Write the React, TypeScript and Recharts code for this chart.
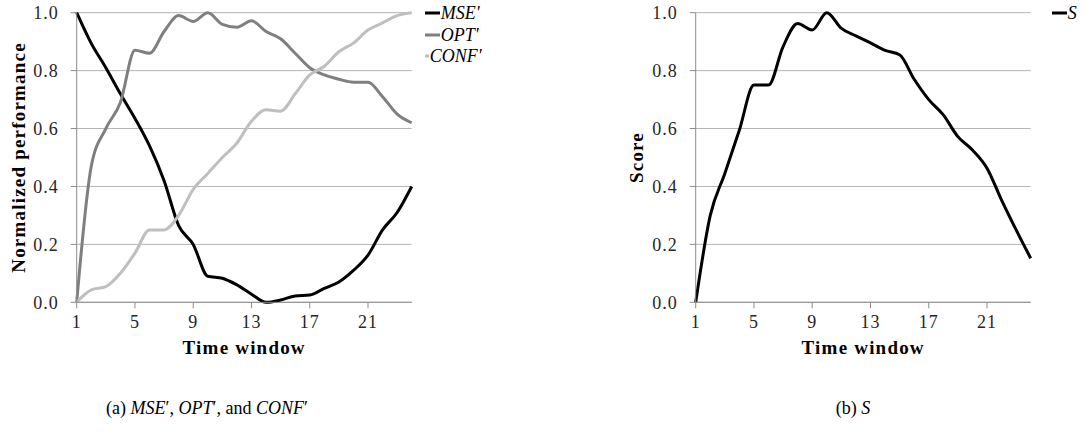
import React from 'react';
import { LineChart, Line, XAxis, YAxis, CartesianGrid, Legend } from 'recharts';

const timeWindows = [1, 2, 3, 4, 5, 6, 7, 8, 9, 10, 11, 12, 13, 14, 15, 16, 17, 18, 19, 20, 21, 22, 23, 24];
const msePrime = [1.0, 0.894, 0.81, 0.72, 0.635, 0.54, 0.42, 0.265, 0.2, 0.09, 0.083, 0.06, 0.028, 0.0, 0.008, 0.022, 0.025, 0.048, 0.07, 0.11, 0.163, 0.25, 0.31, 0.4];
const optPrime = [0.0, 0.47, 0.6, 0.69, 0.87, 0.86, 0.935, 0.99, 0.97, 1.0, 0.96, 0.95, 0.972, 0.935, 0.91, 0.86, 0.81, 0.785, 0.77, 0.76, 0.76, 0.71, 0.65, 0.62];
const confPrime = [0.0, 0.043, 0.054, 0.1, 0.17, 0.25, 0.25, 0.3, 0.39, 0.445, 0.5, 0.55, 0.625, 0.665, 0.66, 0.72, 0.785, 0.815, 0.865, 0.895, 0.94, 0.965, 0.99, 1.0];
const scoreS = [0.0, 0.3, 0.445, 0.595, 0.75, 0.75, 0.883, 0.963, 0.94, 1.0, 0.946, 0.92, 0.896, 0.87, 0.855, 0.77, 0.7, 0.647, 0.572, 0.526, 0.463, 0.353, 0.25, 0.152];

const xTicks = [1, 5, 9, 13, 17, 21];
const yTicks = [0, 0.2, 0.4, 0.6, 0.8, 1.0];

const leftData = timeWindows.map((t, i) => ({ t, mse: msePrime[i], opt: optPrime[i], conf: confPrime[i] }));
const rightData = timeWindows.map((t, i) => ({ t, s: scoreS[i] }));

const AXIS = '#8c8c8c';
const GRID = '#b4b4b4';
const SERIF = "'Liberation Serif', 'Times New Roman', serif";
const TICK_FONT = { fontFamily: SERIF, fontSize: 18, fill: '#262626', letterSpacing: 1 };

type LegendItem = { label: string; color: string };

const makeLegend = (items: LegendItem[], pad: number) => () => (
  <div style={{ paddingLeft: pad, marginTop: -10 }}>
    {items.map((it) => (
      <div key={it.label} style={{ display: 'flex', alignItems: 'center', height: 21.3 }}>
        <svg width={15} height={4} style={{ display: 'block' }}>
          <line x1={0} y1={2} x2={15} y2={2} stroke={it.color} strokeWidth={3} />
        </svg>
        <span style={{ fontFamily: SERIF, fontStyle: 'italic', fontSize: 18, color: '#000', lineHeight: '18px', marginLeft: 1 }}>
          {it.label}
        </span>
      </div>
    ))}
  </div>
);

const titleStyle = { fontFamily: SERIF, fontWeight: 'bold' as const, fontSize: 19, fill: '#000', letterSpacing: 1.2 };

const xLabel = (props: any) => {
  const vb = props.viewBox || {};
  return (
    <text x={vb.x + vb.width / 2} y={vb.y + 45} textAnchor="middle" dominantBaseline="central" style={titleStyle}>
      Time window
    </text>
  );
};

const yLabel = (text: string, xAbs: number) => (props: any) => {
  const vb = props.viewBox || {};
  const cy = vb.y + vb.height / 2;
  return (
    <text x={xAbs} y={cy} textAnchor="middle" dominantBaseline="central" transform={`rotate(-90 ${xAbs} ${cy})`}
      style={titleStyle}>
      {text}
    </text>
  );
};

const captionStyle: React.CSSProperties = {
  position: 'absolute',
  fontFamily: SERIF,
  fontSize: 18,
  color: '#000',
  whiteSpace: 'nowrap',
  transform: 'translateX(-50%)',
};

export default function App() {
  return (
    <div style={{ position: 'absolute', left: 0, top: 0, width: 1090, height: 439, background: '#fff' }}>
      <div style={{ position: 'absolute', left: 0, top: 0 }}>
        <LineChart width={500} height={370} data={leftData} margin={{ top: 12.7, right: 18.3, bottom: 37.7, left: 16.7 }}>
          <CartesianGrid horizontal vertical={false} stroke={GRID} />
          <XAxis dataKey="t" type="number" domain={[1, 24]} ticks={xTicks} interval={0} height={30}
            axisLine={{ stroke: AXIS }} tickLine={{ stroke: AXIS }} tickSize={6} tickMargin={7} tick={TICK_FONT}
            label={xLabel} />
          <YAxis type="number" domain={[0, 1]} ticks={yTicks} width={60} tickFormatter={(v: number) => v.toFixed(1)}
            axisLine={{ stroke: AXIS }} tickLine={{ stroke: AXIS }} tickSize={6} tickMargin={12} tick={TICK_FONT}
            label={yLabel('Normalized performance', 18)} />
          <Legend layout="vertical" align="right" verticalAlign="top" wrapperStyle={{ width: 70 }}
            content={makeLegend([
              { label: "MSE'", color: '#000000' },
              { label: "OPT'", color: '#7f7f7f' },
              { label: "CONF'", color: '#bfbfbf' },
            ], 13)} />
          <Line type="monotone" dataKey="mse" stroke="#000000" strokeWidth={3} dot={false} activeDot={false} isAnimationActive={false} />
          <Line type="monotone" dataKey="opt" stroke="#7f7f7f" strokeWidth={3} dot={false} activeDot={false} isAnimationActive={false} />
          <Line type="monotone" dataKey="conf" stroke="#bfbfbf" strokeWidth={3} dot={false} activeDot={false} isAnimationActive={false} />
        </LineChart>
      </div>
      <div style={{ position: 'absolute', left: 560, top: 0 }}>
        <LineChart width={530} height={370} data={rightData} margin={{ top: 12.7, right: 0, bottom: 37.7, left: 75.7 }}>
          <CartesianGrid horizontal vertical={false} stroke={GRID} />
          <XAxis dataKey="t" type="number" domain={[1, 24]} ticks={xTicks} interval={0} height={30}
            axisLine={{ stroke: AXIS }} tickLine={{ stroke: AXIS }} tickSize={6} tickMargin={7} tick={TICK_FONT}
            label={xLabel} />
          <YAxis type="number" domain={[0, 1]} ticks={yTicks} width={60} tickFormatter={(v: number) => v.toFixed(1)}
            axisLine={{ stroke: AXIS }} tickLine={{ stroke: AXIS }} tickSize={6} tickMargin={12} tick={TICK_FONT}
            label={yLabel('Score', 76)} />
          <Legend layout="vertical" align="right" verticalAlign="top" wrapperStyle={{ width: 59.3 }}
            content={makeLegend([{ label: 'S', color: '#000000' }], 21)} />
          <Line type="monotone" dataKey="s" stroke="#000000" strokeWidth={3} dot={false} activeDot={false} isAnimationActive={false} />
        </LineChart>
      </div>
      <div style={{ ...captionStyle, left: 207, top: 398 }}>
        (a) <i>MSE</i>′, <i>OPT</i>′, and <i>CONF</i>′
      </div>
      <div style={{ ...captionStyle, left: 853, top: 398 }}>
        (b) <i>S</i>
      </div>
    </div>
  );
}
